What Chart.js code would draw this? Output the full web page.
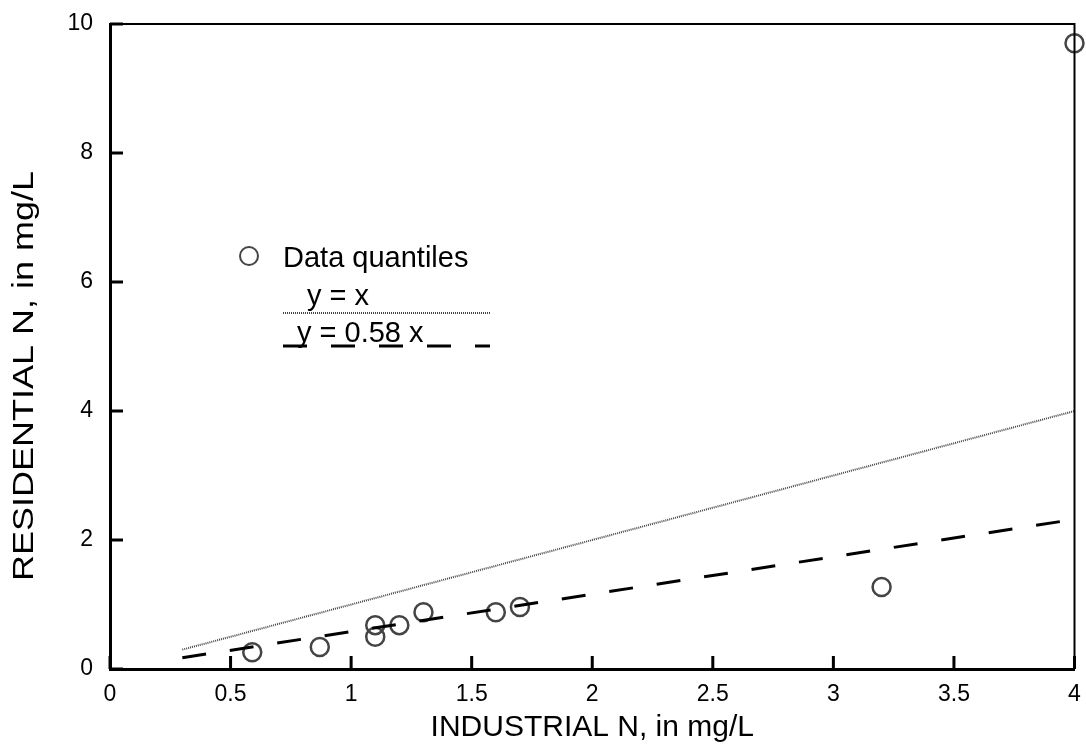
<!DOCTYPE html>
<html>
<head>
<meta charset="utf-8">
<script src="https://cdn.jsdelivr.net/npm/chart.js@4"></script>
<style>
  html, body { margin: 0; padding: 0; background: #fff; }
  #wrap { width: 1086px; height: 752px; position: relative; }
</style>
</head>
<body>
<div id="wrap"><canvas id="qq"></canvas></div>
<script>
// quantiles
const industrialN = [0.59, 0.87, 1.1, 1.1, 1.2, 1.3, 1.6, 1.7, 3.2, 4.0];
const residentialN = [0.26, 0.34, 0.5, 0.68, 0.68, 0.88, 0.88, 0.96, 1.27, 9.7];

// reference lines (end points)
const lineX = [0.3, 4];
const oneToOneY = [0.3, 4];
const fitY = [0.174, 2.32];

const xTicks = [0, 0.5, 1, 1.5, 2, 2.5, 3, 3.5, 4];
const yTicks = [0, 2, 4, 6, 8, 10];

const FONT = '"Liberation Sans", Arial, Helvetica, sans-serif';

const toPts = (xs, ys) => xs.map((x, i) => ({ x: x, y: ys[i] }));

// frame, inward ticks, titles and the little legend
const decor = {
  id: 'decor',
  afterDraw(chart) {
    const ctx = chart.ctx;
    const a = chart.chartArea;
    const xs = chart.scales.x, ys = chart.scales.y;
    ctx.save();
    ctx.strokeStyle = '#000';
    // top + right (thinner)
    ctx.lineWidth = 2;
    ctx.beginPath();
    ctx.moveTo(a.left, a.top); ctx.lineTo(a.right, a.top); ctx.lineTo(a.right, a.bottom);
    ctx.stroke();
    // ticks pointing in
    ctx.lineWidth = 3;
    ctx.beginPath();
    yTicks.forEach(v => {
      const p = ys.getPixelForValue(v);
      ctx.moveTo(a.left, p); ctx.lineTo(a.left + 13, p);
    });
    xTicks.forEach(v => {
      const p = xs.getPixelForValue(v);
      ctx.moveTo(p, a.bottom); ctx.lineTo(p, a.bottom - 13);
    });
    ctx.stroke();

    // axis titles
    ctx.fillStyle = '#000';
    ctx.font = '30px ' + FONT;
    ctx.textAlign = 'center';
    ctx.textBaseline = 'alphabetic';
    ctx.fillText('INDUSTRIAL N, in mg/L', (a.left + a.right) / 2, 736);
    ctx.save();
    ctx.translate(33, 376);
    ctx.rotate(-Math.PI / 2);
    ctx.scale(1.2, 1);
    ctx.fillText('RESIDENTIAL N, in mg/L', 0, 0);
    ctx.restore();

    // legend
    ctx.font = '29px ' + FONT;
    const lx = a.left, ty = a.top;
    ctx.lineWidth = 2;
    ctx.strokeStyle = '#444';
    ctx.beginPath();
    ctx.arc(lx + 139, ty + 232, 9, 0, Math.PI * 2);
    ctx.stroke();
    ctx.textAlign = 'left';
    ctx.fillText('Data quantiles', lx + 173, ty + 243);
    ctx.fillText('y = x', lx + 197, ty + 281);
    ctx.fillText('y = 0.58 x', lx + 187, ty + 318);
    ctx.setLineDash([1, 1]);
    ctx.lineWidth = 2;
    ctx.strokeStyle = '#444';
    ctx.beginPath();
    ctx.moveTo(lx + 173, ty + 289); ctx.lineTo(lx + 380, ty + 289);
    ctx.stroke();
    ctx.setLineDash([24, 24]);
    ctx.lineWidth = 3;
    ctx.strokeStyle = '#000';
    ctx.beginPath();
    ctx.moveTo(lx + 173, ty + 322); ctx.lineTo(lx + 380, ty + 322);
    ctx.stroke();
    ctx.restore();
  }
};

new Chart(document.getElementById('qq'), {
  type: 'scatter',
  data: {
    datasets: [
      {
        label: 'y = x',
        type: 'line',
        data: toPts(lineX, oneToOneY),
        borderColor: '#444',
        borderWidth: 2,
        borderDash: [1, 1],
        pointRadius: 0,
        fill: false
      },
      {
        label: 'y = 0.58 x',
        type: 'line',
        data: toPts(lineX, fitY),
        borderColor: '#000',
        borderWidth: 3,
        borderDash: [24, 24],
        pointRadius: 0,
        fill: false
      },
      {
        label: 'Data quantiles',
        data: toPts(industrialN, residentialN),
        pointStyle: 'circle',
        pointRadius: 9,
        borderWidth: 2.5,
        borderColor: '#444',
        backgroundColor: 'rgba(0,0,0,0)',
        clip: false
      }
    ]
  },
  options: {
    responsive: true,
    maintainAspectRatio: false,
    animation: false,
    layout: { padding: { left: 0, right: 6, top: 24, bottom: 0 } },
    plugins: { legend: { display: false }, tooltip: { enabled: false } },
    scales: {
      x: {
        type: 'linear',
        min: 0, max: 4,
        afterBuildTicks: s => { s.ticks = xTicks.map(v => ({ value: v })); },
        afterFit: s => { s.height = 83; s.paddingLeft = 0; s.paddingRight = 0; },
        grid: { display: false, drawTicks: false },
        border: { display: true, width: 3, color: '#000' },
        ticks: { color: '#000', padding: 12, maxRotation: 0, callback: v => String(v), font: { family: FONT, size: 23 } }
      },
      y: {
        type: 'linear',
        min: 0, max: 10,
        afterBuildTicks: s => { s.ticks = yTicks.map(v => ({ value: v })); },
        afterFit: s => { s.width = 110; s.paddingTop = 0; s.paddingBottom = 0; },
        grid: { display: false, drawTicks: false },
        border: { display: true, width: 3, color: '#000' },
        ticks: { color: '#000', padding: 17, callback: v => String(v), font: { family: FONT, size: 23 } }
      }
    }
  },
  plugins: [decor]
});
</script>
</body>
</html>
